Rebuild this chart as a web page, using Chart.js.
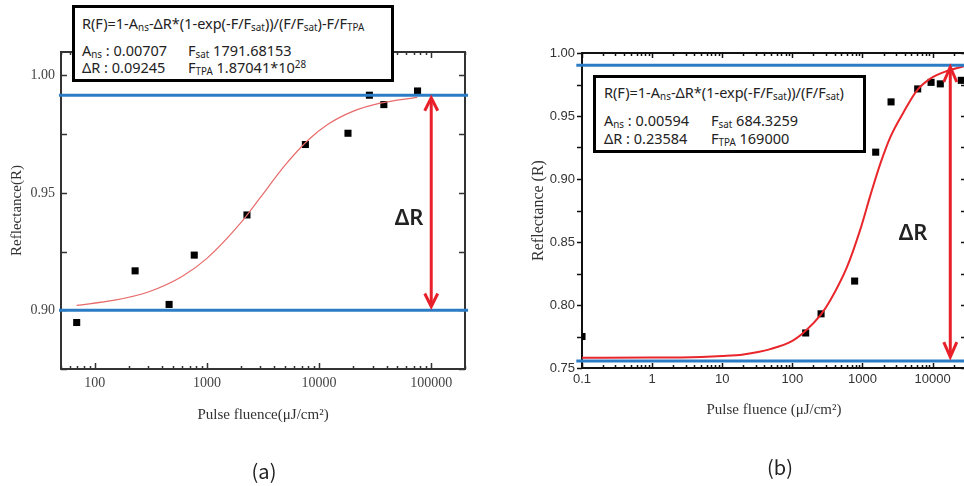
<!DOCTYPE html>
<html>
<head>
<meta charset="utf-8">
<script src="https://cdn.jsdelivr.net/npm/chart.js@4.4.1/dist/chart.umd.min.js"></script>
<style>
  html, body { margin: 0; padding: 0; background: #fff; }
  body { width: 964px; height: 486px; overflow: hidden; position: relative; }
  canvas { position: absolute; top: 0; }
  #chartA { left: 0; }
  #chartB { left: 490px; }
  .box { position: absolute; box-sizing: border-box; border: 3px solid #000; background: #fff;
         font-family: "Noto Sans", sans-serif; font-size: 14.5px; color: #222; }
  .box div { position: absolute; line-height: 16px; white-space: nowrap; }
  .box sub { font-size: 68%; vertical-align: -2px; line-height: 0; }
  .box sup { font-size: 68%; vertical-align: 5px; line-height: 0; }
  .lbl { position: absolute; white-space: nowrap; transform: translate(-50%, -50%); }
  .dr { font-family: "Noto Sans", sans-serif; font-weight: 600; font-size: 22px; color: #222; }
  .pn { font-family: "Noto Sans CJK KR", "Noto Sans", sans-serif; font-size: 20px; color: #222; }
</style>
</head>
<body>
<canvas id="chartA" width="480" height="486"></canvas>
<canvas id="chartB" width="490" height="486"></canvas>

<div class="box" style="left:72px;top:5px;width:322px;height:77px">
  <div style="left:7px;top:7px">R(F)=1-A<sub>ns</sub>-&Delta;R*(1-exp(-F/F<sub>sat</sub>))/(F/F<sub>sat</sub>)-F/F<sub>TPA</sub></div>
  <div style="left:7px;top:34px">A<sub>ns</sub> : 0.00707</div>
  <div style="left:113px;top:34px">F<sub>sat</sub> 1791.68153</div>
  <div style="left:7px;top:51px">&Delta;R : 0.09245</div>
  <div style="left:113px;top:51px">F<sub>TPA</sub> 1.87041*10<sup>28</sup></div>
</div>

<div class="box" style="left:593px;top:75px;width:273px;height:78px">
  <div style="left:8px;top:6px">R(F)=1-A<sub>ns</sub>-&Delta;R*(1-exp(-F/F<sub>sat</sub>))/(F/F<sub>sat</sub>)</div>
  <div style="left:8px;top:34px">A<sub>ns</sub> : 0.00594</div>
  <div style="left:115px;top:34px">F<sub>sat</sub> 684.3259</div>
  <div style="left:8px;top:52px">&Delta;R : 0.23584</div>
  <div style="left:115px;top:52px">F<sub>TPA</sub> 169000</div>
</div>

<div class="lbl dr" style="left:409px;top:216px">&Delta;R</div>
<div class="lbl dr" style="left:913px;top:231px">&Delta;R</div>
<div class="lbl pn" style="left:264px;top:470px">(a)</div>
<div class="lbl pn" style="left:780px;top:466px">(b)</div>

<script>
// ---- panel (a) ----
var fluenceA = [69, 229, 460, 771, 2275, 7550, 18100, 28100, 37800, 75500];
var reflA = [0.8948, 0.9168, 0.9025, 0.9235, 0.9406, 0.9706, 0.9754, 0.9916, 0.9876, 0.9934];
var fitFluenceA = [69, 150, 300, 600, 1000, 2000, 3000, 5000, 8000, 12000, 20000, 35000, 75000];
var fitReflA = [0.9021, 0.9043, 0.9078, 0.9144, 0.9221, 0.9372, 0.9481, 0.9619, 0.9725, 0.9792, 0.9847, 0.9882, 0.9907];
var levelsA = [0.9916, 0.90];
var levelSpanA = [48, 213000];
var arrowXA = 100000;
var arrowYA = [0.9905, 0.9016];
var xTickValsA = [100, 1000, 10000, 100000];
var xTickLabelsA = ['100', '1000', '10000', '100000'];
var yTickValsA = [0.90, 0.95, 1.00];
var yTickLabelsA = ['0.90', '0.95', '1.00'];

// ---- panel (b) ----
var fluenceB = [0.1, 155, 257, 774, 1545, 2560, 6140, 9530, 12900, 25700];
var reflB = [0.775, 0.7778, 0.7930, 0.8190, 0.9213, 0.9612, 0.9715, 0.9767, 0.9755, 0.9783];
var fitFluenceB = [0.1, 1, 5, 10, 20, 48.5, 100, 155, 257, 348, 603, 933, 1297, 1800, 2500, 3875, 6010, 9310, 16100, 27800];
var fitReflB = [0.7582, 0.7583, 0.7588, 0.7595, 0.7608, 0.7650, 0.7715, 0.7795, 0.7925, 0.8037, 0.8302, 0.8600, 0.8870, 0.9122, 0.9333, 0.9532, 0.9704, 0.9797, 0.9857, 0.9894];
var levelsB = [0.9902, 0.7555];
var levelSpanB = [0.083, 100000];
var arrowXB = 17900;
var arrowYB = [0.9889, 0.7587];
var xTickValsB = [0.1, 1, 10, 100, 1000, 10000];
var xTickLabelsB = ['0.1', '1', '10', '100', '1000', '10000'];
var yTickValsB = [0.75, 0.80, 0.85, 0.90, 0.95, 1.00];
var yTickLabelsB = ['0.75', '0.80', '0.85', '0.90', '0.95', '1.00'];

var BLUE = '#2b7cc4';

function pts(xs, ys) {
  return xs.map(function (v, i) { return {x: v, y: ys[i]}; });
}

function seg(ctx, x1, y1, x2, y2) {
  ctx.beginPath(); ctx.moveTo(x1, y1); ctx.lineTo(x2, y2); ctx.stroke();
}

// frame on all four sides plus small tick marks (log minor ticks on x)
var frameTicks = {
  id: 'frameTicks',
  beforeDatasetsDraw: function (chart, args, o) {
    var ctx = chart.ctx, a = chart.chartArea, x = chart.scales.x, y = chart.scales.y;
    ctx.save();
    ctx.strokeStyle = o.color;
    ctx.lineWidth = 1.5;
    var e0 = Math.floor(Math.log10(x.min)), e1 = Math.ceil(Math.log10(x.max));
    for (var e = e0; e <= e1; e++) {
      for (var m = 1; m < 10; m++) {
        var v = m * Math.pow(10, e);
        if (v < x.min * 0.999 || v > x.max * 1.001) continue;
        var px = Math.round(x.getPixelForValue(v)) + 0.5;
        var len = m === 1 ? o.major : o.minor;
        seg(ctx, px, a.bottom, px, a.bottom - len);
        seg(ctx, px, a.top, px, a.top + len);
      }
    }
    for (var i = 0; ; i++) {
      var yv = o.yFrom + i * o.yStep;
      if (yv > y.max + 1e-9) break;
      var py = Math.round(y.getPixelForValue(yv)) + 0.5;
      if (o.yOut) seg(ctx, a.left, py, a.left - o.major, py);
      else seg(ctx, a.left, py, a.left + o.major, py);
      seg(ctx, a.right, py, a.right - o.major, py);
    }
    ctx.lineWidth = o.width;
    ctx.strokeRect(a.left, a.top, a.right - a.left, a.bottom - a.top);
    ctx.restore();
  }
};

// vertical double-headed arrow marking delta R
var arrowMark = {
  id: 'arrowMark',
  afterDatasetsDraw: function (chart, args, o) {
    var ctx = chart.ctx, x = chart.scales.x, y = chart.scales.y;
    var px = x.getPixelForValue(o.x);
    var yt = y.getPixelForValue(o.y[0]), yb = y.getPixelForValue(o.y[1]);
    ctx.save();
    ctx.strokeStyle = o.color;
    ctx.lineWidth = 3;
    seg(ctx, px, yt + 2, px, yb - 2);
    ctx.beginPath();
    ctx.moveTo(px - 6.5, yt + o.head); ctx.lineTo(px, yt); ctx.lineTo(px + 6.5, yt + o.head);
    ctx.stroke();
    ctx.beginPath();
    ctx.moveTo(px - 6.5, yb - o.head); ctx.lineTo(px, yb); ctx.lineTo(px + 6.5, yb - o.head);
    ctx.stroke();
    ctx.restore();
  }
};

function makeChart(id, cfg) {
  return new Chart(document.getElementById(id), {
    type: 'scatter',
    data: {
      datasets: [{
        data: pts(cfg.levelSpan, [cfg.levels[0], cfg.levels[0]]),
        showLine: true, borderColor: BLUE, borderWidth: 3, pointRadius: 0, clip: false
      }, {
        data: pts(cfg.levelSpan, [cfg.levels[1], cfg.levels[1]]),
        showLine: true, borderColor: BLUE, borderWidth: 3, pointRadius: 0, clip: false
      }, {
        data: pts(cfg.fitX, cfg.fitY),
        showLine: true, borderColor: cfg.fitColor, borderWidth: cfg.fitWidth,
        pointRadius: 0, cubicInterpolationMode: 'monotone'
      }, {
        data: pts(cfg.dataX, cfg.dataY),
        showLine: false, pointStyle: 'rect', pointRadius: 5,
        backgroundColor: '#000', borderColor: '#000', borderWidth: 0, clip: 0
      }]
    },
    options: {
      responsive: false,
      animation: false,
      events: [],
      layout: {padding: cfg.pad},
      plugins: {
        legend: {display: false},
        tooltip: {enabled: false},
        frameTicks: cfg.frame,
        arrowMark: {x: cfg.arrowX, y: cfg.arrowY, color: '#e8202a', head: cfg.head}
      },
      scales: {
        x: {
          type: 'logarithmic',
          min: cfg.xMin, max: cfg.xMax,
          grid: {display: false, drawTicks: false},
          border: {display: false},
          afterBuildTicks: function (s) { s.ticks = cfg.xTicks.map(function (v) { return {value: v}; }); },
          afterFit: function (s) { s.height = cfg.xH; },
          ticks: {
            autoSkip: false, maxRotation: 0, padding: cfg.xTickPad,
            color: cfg.tickColor, font: cfg.tickFont,
            callback: function (v, i) { return cfg.xLabels[i]; }
          },
          title: {
            display: true, text: cfg.xTitle, color: '#333',
            font: {family: 'Liberation Serif', size: 15},
            padding: {top: 0, bottom: cfg.xTitlePad}
          }
        },
        y: {
          type: 'linear',
          min: cfg.yMin, max: cfg.yMax,
          grid: {display: false, drawTicks: false},
          border: {display: false},
          afterBuildTicks: function (s) { s.ticks = cfg.yTicks.map(function (v) { return {value: v}; }); },
          afterFit: function (s) { s.width = cfg.yW; },
          ticks: {
            padding: cfg.yTickPad, color: cfg.tickColor, font: cfg.tickFont,
            callback: function (v, i) { return cfg.yLabels[i]; }
          },
          title: {
            display: true, text: cfg.yTitle, color: '#333',
            font: {family: 'Liberation Serif', size: cfg.yTitleSize},
            padding: {top: cfg.yTitlePad, bottom: 0}
          }
        }
      }
    },
    plugins: [frameTicks, arrowMark]
  });
}

makeChart('chartA', {
  dataX: fluenceA, dataY: reflA, fitX: fitFluenceA, fitY: fitReflA,
  levels: levelsA, levelSpan: levelSpanA, arrowX: arrowXA, arrowY: arrowYA, head: 13,
  fitColor: '#e86a6a', fitWidth: 1.2,
  xMin: 50, xMax: 200000, yMin: 0.875, yMax: 1.01,
  xTicks: xTickValsA, xLabels: xTickLabelsA, yTicks: yTickValsA, yLabels: yTickLabelsA,
  pad: {left: 0, top: 52, right: 15, bottom: 0}, xH: 117, yW: 61,
  xTickPad: 6, yTickPad: 6, xTitlePad: 62, yTitlePad: 8, yTitleSize: 15,
  tickColor: '#444', tickFont: {family: 'Liberation Serif', size: 14},
  xTitle: 'Pulse fluence(\u03bcJ/cm\u00b2)', yTitle: 'Reflectance(R)',
  frame: {color: '#333', width: 2, major: 6, minor: 3, yFrom: 0.875, yStep: 0.025, yOut: false}
});

makeChart('chartB', {
  dataX: fluenceB, dataY: reflB, fitX: fitFluenceB, fitY: fitReflB,
  levels: levelsB, levelSpan: levelSpanB, arrowX: arrowXB, arrowY: arrowYB, head: 15,
  fitColor: '#e8262b', fitWidth: 2,
  xMin: 0.1, xMax: 30000, yMin: 0.75, yMax: 1.00,
  xTicks: xTickValsB, xLabels: xTickLabelsB, yTicks: yTickValsB, yLabels: yTickLabelsB,
  pad: {left: 0, top: 53, right: 14, bottom: 0}, xH: 118, yW: 92,
  xTickPad: 4, yTickPad: 7, xTitlePad: 67, yTitlePad: 39, yTitleSize: 16,
  tickColor: '#333', tickFont: {family: 'Liberation Sans', size: 13},
  xTitle: 'Pulse fluence (\u03bcJ/cm\u00b2)', yTitle: 'Reflectance (R)',
  frame: {color: '#111', width: 2, major: 5, minor: 3, yFrom: 0.75, yStep: 0.025, yOut: true}
});
</script>
</body>
</html>
